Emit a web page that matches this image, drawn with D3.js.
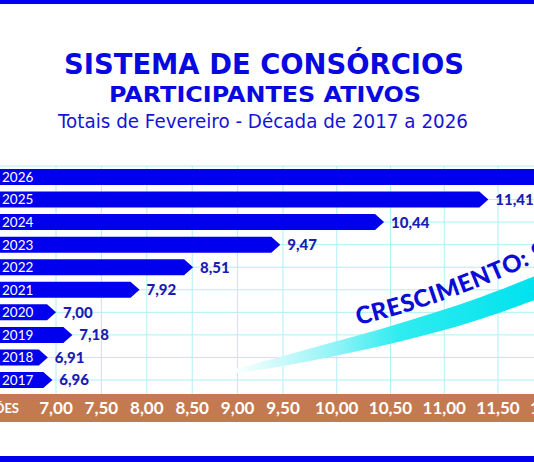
<!DOCTYPE html>
<html>
<head>
<meta charset="utf-8">
<script src="https://cdn.jsdelivr.net/npm/d3@7"></script>
<style>
  body { margin: 0; background: #fff; }
  svg { display: block; }
</style>
</head>
<body>
<div id="chart"></div>
<script>
// DATA
const years = ['2017', '2018', '2019', '2020', '2021', '2022', '2023', '2024', '2025', '2026'];
const participants = [6.96, 6.91, 7.18, 7.00, 7.92, 8.51, 9.47, 10.44, 11.41, 12.40];
const tickValues = [7.00, 7.50, 8.00, 8.50, 9.00, 9.50, 10.00, 10.50, 11.00, 11.50, 12.00];
const unitLabel = 'MILHÕES';
const growthLabel = 'CRESCIMENTO: 9';

const titles = {
    main: 'SISTEMA DE CONSÓRCIOS',
    sub: 'PARTICIPANTES ATIVOS',
    note: 'Totais de Fevereiro - Década de 2017 a 2026'
};

// FIGURE DIMENSIONS
const FIGURE = { WIDTH: 534, HEIGHT: 462 };
const GRID = { TOP: 166, BOTTOM: 394 };
const AXIS = { TOP: 394, HEIGHT: 28 };
const BAR_H = 16;
const TIP = 9;

const BLUE = '#0000ee';
const LABEL_BLUE = '#1c1cb4';
const GRID_COLOR = '#aef0f4';
const AXIS_COLOR = '#c47a50';

const fmt = d3.formatLocale({ decimal: ',', thousands: '.', grouping: [3], currency: ['', ''] }).format('.2f');

// the printed axis is not evenly spaced, so use a piecewise scale
const x = d3.scaleLinear()
    .domain([7.00, 9.50, 11.50])
    .range([56, 283, 498]);

const y = d3.scalePoint()
    .domain(years.slice().reverse())
    .range([177, 380]);

const data = years.map((yr, i) => ({ year: yr, value: participants[i] }));

const canvas = d3.select('#chart')
    .append('svg')
        .attr('width', FIGURE.WIDTH)
        .attr('height', FIGURE.HEIGHT);

canvas.append('rect')
    .attr('width', FIGURE.WIDTH)
    .attr('height', FIGURE.HEIGHT)
    .attr('fill', '#fff');

// frame lines
canvas.append('rect')
    .attr('x', 0).attr('y', 0)
    .attr('width', FIGURE.WIDTH).attr('height', 4)
    .attr('fill', BLUE);
canvas.append('rect')
    .attr('x', 0).attr('y', 456)
    .attr('width', FIGURE.WIDTH).attr('height', 6)
    .attr('fill', BLUE);

// titles
canvas.append('text')
    .attr('x', 264).attr('y', 74)
    .attr('text-anchor', 'middle')
    .attr('font-family', 'DejaVu Sans, Verdana, sans-serif')
    .attr('font-weight', 'bold')
    .attr('font-size', 29)
    .attr('textLength', 400)
    .attr('lengthAdjust', 'spacingAndGlyphs')
    .attr('fill', '#0808e0')
    .text(titles.main);

canvas.append('text')
    .attr('x', 265).attr('y', 102)
    .attr('text-anchor', 'middle')
    .attr('font-family', 'DejaVu Sans, Verdana, sans-serif')
    .attr('font-weight', 'bold')
    .attr('font-size', 22)
    .attr('textLength', 312)
    .attr('lengthAdjust', 'spacingAndGlyphs')
    .attr('fill', '#0808e0')
    .text(titles.sub);

canvas.append('text')
    .attr('x', 263).attr('y', 128)
    .attr('text-anchor', 'middle')
    .attr('font-family', 'DejaVu Sans, Verdana, sans-serif')
    .attr('font-size', 20)
    .attr('textLength', 410)
    .attr('lengthAdjust', 'spacingAndGlyphs')
    .attr('fill', '#1414d8')
    .text(titles.note);

// grid
const grid = canvas.append('g').attr('class', 'grid')
    .attr('stroke', GRID_COLOR)
    .attr('stroke-width', 1);

grid.selectAll('line.v')
    .data(tickValues)
    .enter()
    .append('line')
        .attr('class', 'v')
        .attr('x1', d => x(d)).attr('x2', d => x(d))
        .attr('y1', GRID.TOP).attr('y2', GRID.BOTTOM);

grid.selectAll('line.h')
    .data([null].concat(y.domain()))
    .enter()
    .append('line')
        .attr('class', 'h')
        .attr('x1', 0).attr('x2', FIGURE.WIDTH)
        .attr('y1', d => d === null ? GRID.TOP : y(d))
        .attr('y2', d => d === null ? GRID.TOP : y(d));

// growth swoosh
const defs = canvas.append('defs');
const grad = defs.append('linearGradient')
    .attr('id', 'swoosh')
    .attr('gradientUnits', 'userSpaceOnUse')
    .attr('x1', 232).attr('y1', 0)
    .attr('x2', 534).attr('y2', 0);
grad.append('stop').attr('offset', '0%').attr('stop-color', '#ffffff');
grad.append('stop').attr('offset', '35%').attr('stop-color', '#8ef3f6');
grad.append('stop').attr('offset', '55%').attr('stop-color', '#30ecf0');
grad.append('stop').attr('offset', '100%').attr('stop-color', '#00e2ee');

const swooshPts = [
    [232, 372, 2], [280, 362, 5], [330, 350, 7], [380, 338, 8.5],
    [430, 324, 10], [480, 309, 11], [540, 286, 12]
];
const swooshArea = d3.area()
    .x(d => d[0])
    .y0(d => d[1] + d[2])
    .y1(d => d[1] - d[2])
    .curve(d3.curveBasis);

canvas.append('path')
    .datum(swooshPts)
    .attr('d', swooshArea)
    .attr('fill', 'url(#swoosh)');

defs.append('path')
    .attr('id', 'growthCurve')
    .attr('d', 'M358,325 Q458,302 560,250');

canvas.append('text')
    .attr('font-family', 'Lato, Open Sans, sans-serif')
    .attr('font-weight', 900)
    .attr('font-size', 24)
    .attr('letter-spacing', 0.6)
    .attr('fill', '#0c0cd6')
    .append('textPath')
        .attr('href', '#growthCurve')
        .text(growthLabel);

// bars as arrows
function arrow(d) {
    const cy = y(d.year);
    const tip = x(d.value);
    const top = cy - BAR_H / 2;
    const bot = cy + BAR_H / 2;
    return `M-5,${top} L${tip - TIP},${top} L${tip},${cy} L${tip - TIP},${bot} L-5,${bot} Z`;
}

const bars = canvas.append('g').attr('class', 'bars');

bars.selectAll('path')
    .data(data)
    .enter()
    .append('path')
        .attr('d', arrow)
        .attr('fill', BLUE);

bars.selectAll('text.year')
    .data(data)
    .enter()
    .append('text')
        .attr('class', 'year')
        .attr('x', 2)
        .attr('y', d => y(d.year))
        .attr('dy', '0.36em')
        .attr('font-family', 'Lato, Open Sans, sans-serif')
        .attr('font-size', 13.5)
        .attr('fill', '#fff')
        .text(d => d.year);

bars.selectAll('text.value')
    .data(data)
    .enter()
    .append('text')
        .attr('class', 'value')
        .attr('x', d => x(d.value) + 7)
        .attr('y', d => y(d.year))
        .attr('dy', '0.36em')
        .attr('font-family', 'Lato, Open Sans, sans-serif')
        .attr('font-weight', 900)
        .attr('font-size', 15)
        .attr('fill', LABEL_BLUE)
        .text(d => fmt(d.value));

// axis band
const axis = canvas.append('g').attr('class', 'xAxis');

axis.append('rect')
    .attr('x', 0).attr('y', AXIS.TOP)
    .attr('width', FIGURE.WIDTH).attr('height', AXIS.HEIGHT)
    .attr('fill', AXIS_COLOR);

axis.selectAll('text.tick')
    .data(tickValues)
    .enter()
    .append('text')
        .attr('class', 'tick')
        .attr('x', d => x(d))
        .attr('y', 414)
        .attr('text-anchor', 'middle')
        .attr('font-family', 'Lato, Open Sans, sans-serif')
        .attr('font-weight', 'bold')
        .attr('font-size', 17)
        .attr('fill', '#fff')
        .text(d => fmt(d));

axis.append('text')
    .attr('x', 19)
    .attr('y', 413)
    .attr('text-anchor', 'end')
    .attr('font-family', 'Lato, Open Sans, sans-serif')
    .attr('font-weight', 'bold')
    .attr('font-size', 13)
    .attr('fill', '#fff')
    .text(unitLabel);
</script>
</body>
</html>
